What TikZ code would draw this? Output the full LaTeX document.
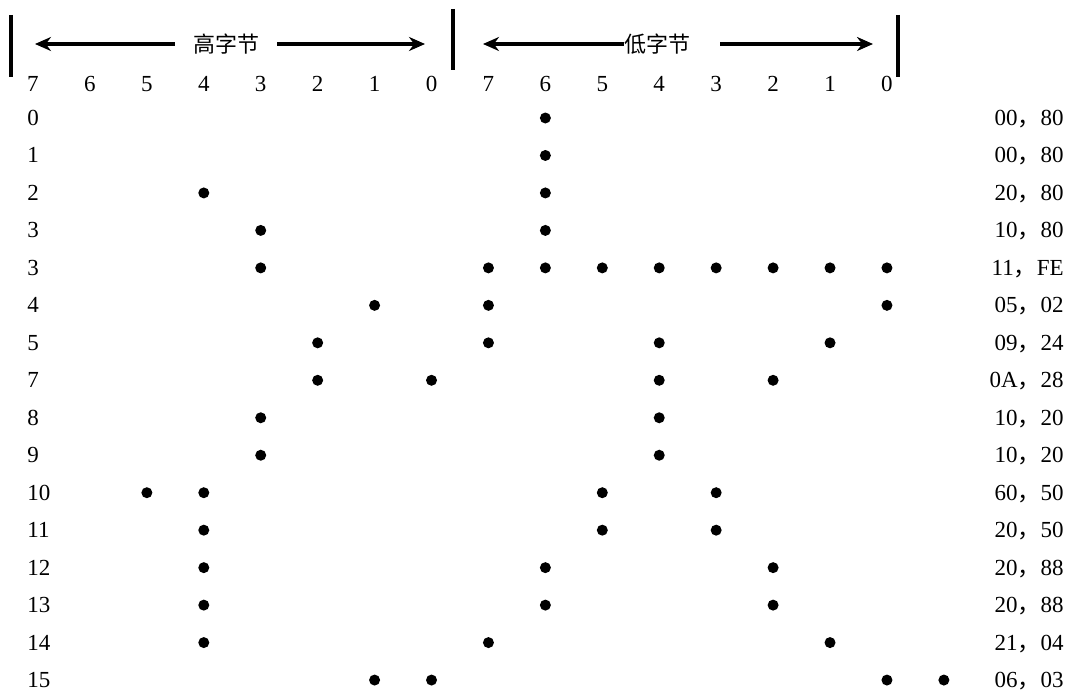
\documentclass[tikz,border=0pt]{standalone}
\usepackage{fontspec}
\setmainfont{Liberation Serif}
\newfontfamily\cjk{Noto Sans CJK SC}
\usetikzlibrary{arrows.meta, positioning, calc}
\tikzset{
  num/.style={inner sep=0pt, font=\fontsize{11.5}{13}\selectfont},
  byte/.style={inner ysep=0pt, font=\fontsize{11}{13}\selectfont\cjk},
  bar/.style={line width=1.6pt},
  arr/.style={-{Stealth[length=8pt,width=7pt]}, line width=1.8pt}
}

\begin{document}
\begin{tikzpicture}[x=0.5pt,y=-0.5pt]
  \useasboundingbox (0,0) rectangle (1074,690);
  % byte header
  \draw[bar] (11,15) -- (11,77);
  \draw[bar] (453,9) -- (453,70);
  \draw[bar] (898,15) -- (898,77);
  \node[byte,inner xsep=9pt] (hi) at (226,44) {高字节};
  \node[byte,inner xsep=0pt] (lo) at (657,44) {低字节};
  \coordinate (hil) at (35,44);  \coordinate (hir) at (425,44);
  \coordinate (lol) at (483,44); \coordinate (lor) at (873,44);
  \draw[arr] (hi.west) -- (hil); \draw[arr] (hi.east) -- (hir);
  \draw[arr] (lo.west) -- (lol); \draw[arr] ([xshift=15pt]lo.east) -- (lor);
  % bit numbers
  \foreach \i in {0,...,15}{
    \pgfmathtruncatemacro\bit{7-mod(\i,8)}
    \node[num,anchor=base] (b\i) at (33+\i*56.93,91.5) {\bit};
  }
  % rows: index / line / high / low / dots
  \foreach \r/\lab/\hb/\lb/\cols in {
      0/0/00/80/{9}, 1/1/00/80/{9}, 2/2/20/80/{3,9}, 3/3/10/80/{4,9},
      4/3/11/FE/{4,8,9,10,11,12,13,14,15}, 5/4/05/02/{6,8,15},
      6/5/09/24/{5,8,11,14}, 7/7/0A/28/{5,7,11,13}, 8/8/10/20/{4,11},
      9/9/10/20/{4,11}, 10/10/60/50/{2,3,10,12}, 11/11/20/50/{3,10,12},
      12/12/20/88/{3,9,13}, 13/13/20/88/{3,9,13}, 14/14/21/04/{3,8,14},
      15/15/06/03/{6,7,15,16}}{
    \node[num,anchor=base west] (r\r) at (27,125.5+\r*37.47) {\lab};
    \node[num,anchor=base east] (v\r) at (1064,125.5+\r*37.47) {\hb{\cjk ，}\lb};
    \foreach \c in \cols
      \fill (33+\c*56.93,118+\r*37.47) circle (5.5);
  }
\end{tikzpicture}
\end{document}
